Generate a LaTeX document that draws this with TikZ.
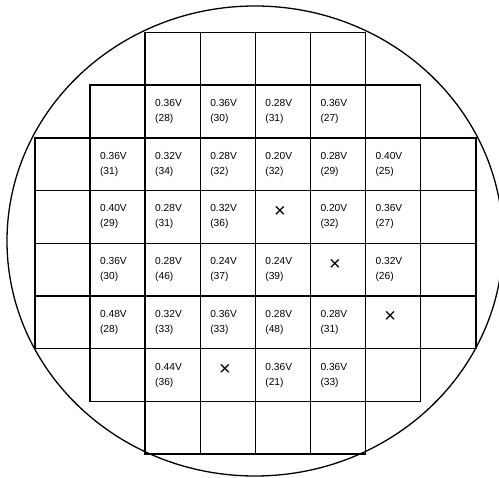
\documentclass[tikz,border=0pt]{standalone}
\usepackage{fontspec}
\setmainfont{Liberation Sans}
\begin{document}
\begin{tikzpicture}[x=1pt,y=-1pt,
  cell/.style={draw, line width=1.5pt, minimum width=55.1pt, minimum height=52.7pt,
    inner xsep=10pt, inner ysep=0pt, text width=35.1pt, align=left,
    font=\fontsize{10.2}{15}\selectfont, anchor=center},
  crossmark/.style={font=\fontsize{20}{20}\selectfont, inner sep=0pt, xshift=-3pt, yshift=5pt},
  wafer/.style={draw, line width=1.3pt}]
\useasboundingbox (0,0) rectangle (499,478);
\fill[white] (0,0) rectangle (499,478);
\draw[wafer] (255,241) ellipse [x radius=248, y radius=235];
% empty cells
\foreach \c/\r in {2/0,3/0,4/0,5/0,1/1,6/1,0/2,7/2,0/3,7/3,0/4,7/4,0/5,7/5,1/6,6/6,2/7,3/7,4/7,5/7}
  \node[cell] (c\c-\r) at ({35+55.1*(\c+0.5)},{32.5+52.7*(\r+0.5)}) {};
% measured cells
\foreach \c/\r/\t in {
  2/1/{0.36V\\(28)}, 3/1/{0.36V\\(30)}, 4/1/{0.28V\\(31)}, 5/1/{0.36V\\(27)},
  1/2/{0.36V\\(31)}, 2/2/{0.32V\\(34)}, 3/2/{0.28V\\(32)}, 4/2/{0.20V\\(32)}, 5/2/{0.28V\\(29)}, 6/2/{0.40V\\(25)},
  1/3/{0.40V\\(29)}, 2/3/{0.28V\\(31)}, 3/3/{0.32V\\(36)}, 5/3/{0.20V\\(32)}, 6/3/{0.36V\\(27)},
  1/4/{0.36V\\(30)}, 2/4/{0.28V\\(46)}, 3/4/{0.24V\\(37)}, 4/4/{0.24V\\(39)}, 6/4/{0.32V\\(26)},
  1/5/{0.48V\\(28)}, 2/5/{0.32V\\(33)}, 3/5/{0.36V\\(33)}, 4/5/{0.28V\\(48)}, 5/5/{0.28V\\(31)},
  2/6/{0.44V\\(36)}, 4/6/{0.36V\\(21)}, 5/6/{0.36V\\(33)}}
  \node[cell] (c\c-\r) at ({35+55.1*(\c+0.5)},{32.5+52.7*(\r+0.5)}) {\t};
% failed cells
\foreach \c/\r in {4/3,5/4,6/5,3/6}
  \node[cell, label={[crossmark]center:×}] (c\c-\r) at ({35+55.1*(\c+0.5)},{32.5+52.7*(\r+0.5)}) {};
\end{tikzpicture}
\end{document}
